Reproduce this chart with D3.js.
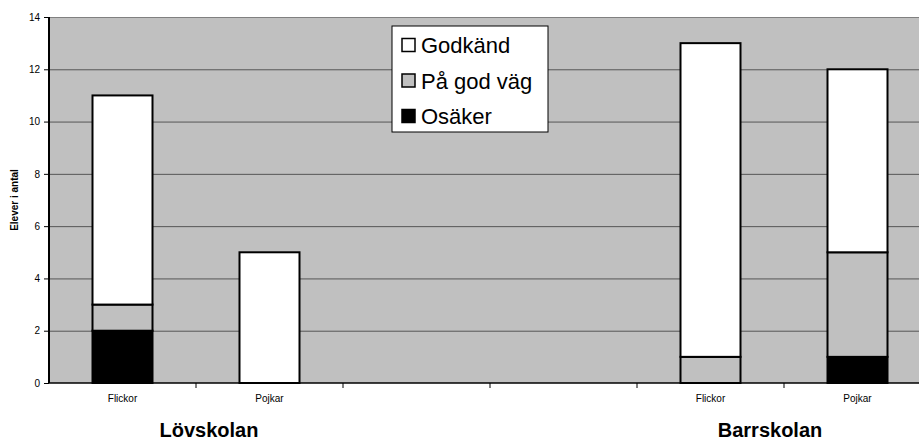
<!DOCTYPE html>
<html><head><meta charset="utf-8">
<script src="https://cdn.jsdelivr.net/npm/d3@7"></script>
<style>body{margin:0;background:#fff}svg{display:block;font-family:"Liberation Sans",Arial,sans-serif}</style>
</head><body><svg id="c" width="919" height="440"></svg>
<script>
const slots = ["s0","s1","s2","s3","s4","s5"];
const slotLabels = ["Flickor","Pojkar","","","Flickor","Pojkar"];
const seriesNames = ["Osäker","På god väg","Godkänd"];
const osaker = [2,0,0,0,0,1];
const paGodVag = [1,0,0,0,1,4];
const godkand = [8,5,0,0,12,7];
const yTicks = [0,2,4,6,8,10,12,14];
const groups = [{name:"Lövskolan", x:209},{name:"Barrskolan", x:770}];
const colors = {"Osäker":"#000000","På god väg":"#c0c0c0","Godkänd":"#ffffff"};

const svg = d3.select("#c");
const L=49, R=931, T=17, B=383;
const x = d3.scaleBand().domain(slots).range([L,R]).paddingInner(0).paddingOuter(0);
const y = d3.scaleLinear().domain([0,14]).range([B,T]);

svg.append("rect").attr("x",L).attr("y",T).attr("width",R-L).attr("height",B-T).attr("fill","#c0c0c0");
svg.append("g").selectAll("line").data(yTicks.filter(d=>d>0)).join("line")
  .attr("x1",L).attr("x2",R).attr("y1",d=>y(d)+0.5).attr("y2",d=>y(d)+0.5)
  .attr("stroke",d=>d===14?"#808080":"#555").attr("stroke-width",1);

const data = slots.map((s,i)=>({slot:s,"Osäker":osaker[i],"På god väg":paGodVag[i],"Godkänd":godkand[i]}));
const stacked = d3.stack().keys(seriesNames)(data);
const bw = 60;
svg.append("g").selectAll("g").data(stacked).join("g").attr("fill",d=>colors[d.key])
  .selectAll("rect").data(d=>d.filter(v=>v[1]-v[0]>0)).join("rect")
  .attr("x",d=>x(d.data.slot)+x.bandwidth()/2-bw/2)
  .attr("width",bw)
  .attr("y",d=>y(d[1]))
  .attr("height",d=>y(d[0])-y(d[1]))
  .attr("stroke","#000").attr("stroke-width",2);

const ya = d3.axisLeft(y).tickValues(yTicks).tickSize(5).tickPadding(4).tickFormat(d3.format("d"));
const gy = svg.append("g").attr("transform",`translate(${L},0)`).call(ya);
gy.select(".domain").attr("stroke","#000").attr("stroke-width",2).attr("d",`M0,${T}V${B}`);
gy.selectAll(".tick line").attr("stroke","#000");
gy.selectAll("text").attr("font-size",10).attr("fill","#000").attr("font-family","Liberation Sans, Arial, sans-serif");

const xa = d3.axisBottom(x).tickSize(0).tickFormat((d,i)=>slotLabels[i]).tickPadding(12);
const gx = svg.append("g").attr("transform",`translate(0,${B})`).call(xa);
gx.select(".domain").attr("stroke","#000").attr("stroke-width",1.5).attr("d",`M${L},0H${R}`);
gx.selectAll("text").attr("font-size",10).attr("fill","#000").attr("font-family","Liberation Sans, Arial, sans-serif");
gx.selectAll(".sep").data(slots.slice(1)).join("line").attr("class","sep")
  .attr("x1",d=>x(d)).attr("x2",d=>x(d)).attr("y1",0).attr("y2",5).attr("stroke","#000");

svg.selectAll(".grp").data(groups).join("text").attr("class","grp")
  .attr("x",d=>d.x).attr("y",437).attr("text-anchor","middle")
  .attr("font-size",20).attr("font-weight","bold").text(d=>d.name);

svg.append("text").attr("transform","translate(18,200) rotate(-90)").attr("text-anchor","middle")
  .attr("font-size",10).attr("font-weight","bold").text("Elever i antal");

const lg = svg.append("g").attr("transform","translate(392,26)");
lg.append("rect").attr("width",156).attr("height",106).attr("fill","#fff").attr("stroke","#000").attr("stroke-width",1);
const legItems = seriesNames.slice().reverse();
lg.selectAll("g.it").data(legItems).join("g").attr("class","it")
  .attr("transform",(d,i)=>`translate(0,${19+i*35.5})`)
  .each(function(d){
    const g=d3.select(this);
    g.append("rect").attr("x",10).attr("y",-6.5).attr("width",13).attr("height",13).attr("fill",colors[d]).attr("stroke","#000").attr("stroke-width",1.5);
    g.append("text").attr("x",29).attr("y",8).attr("font-size",22).text(d);
  });
</script></body></html>
